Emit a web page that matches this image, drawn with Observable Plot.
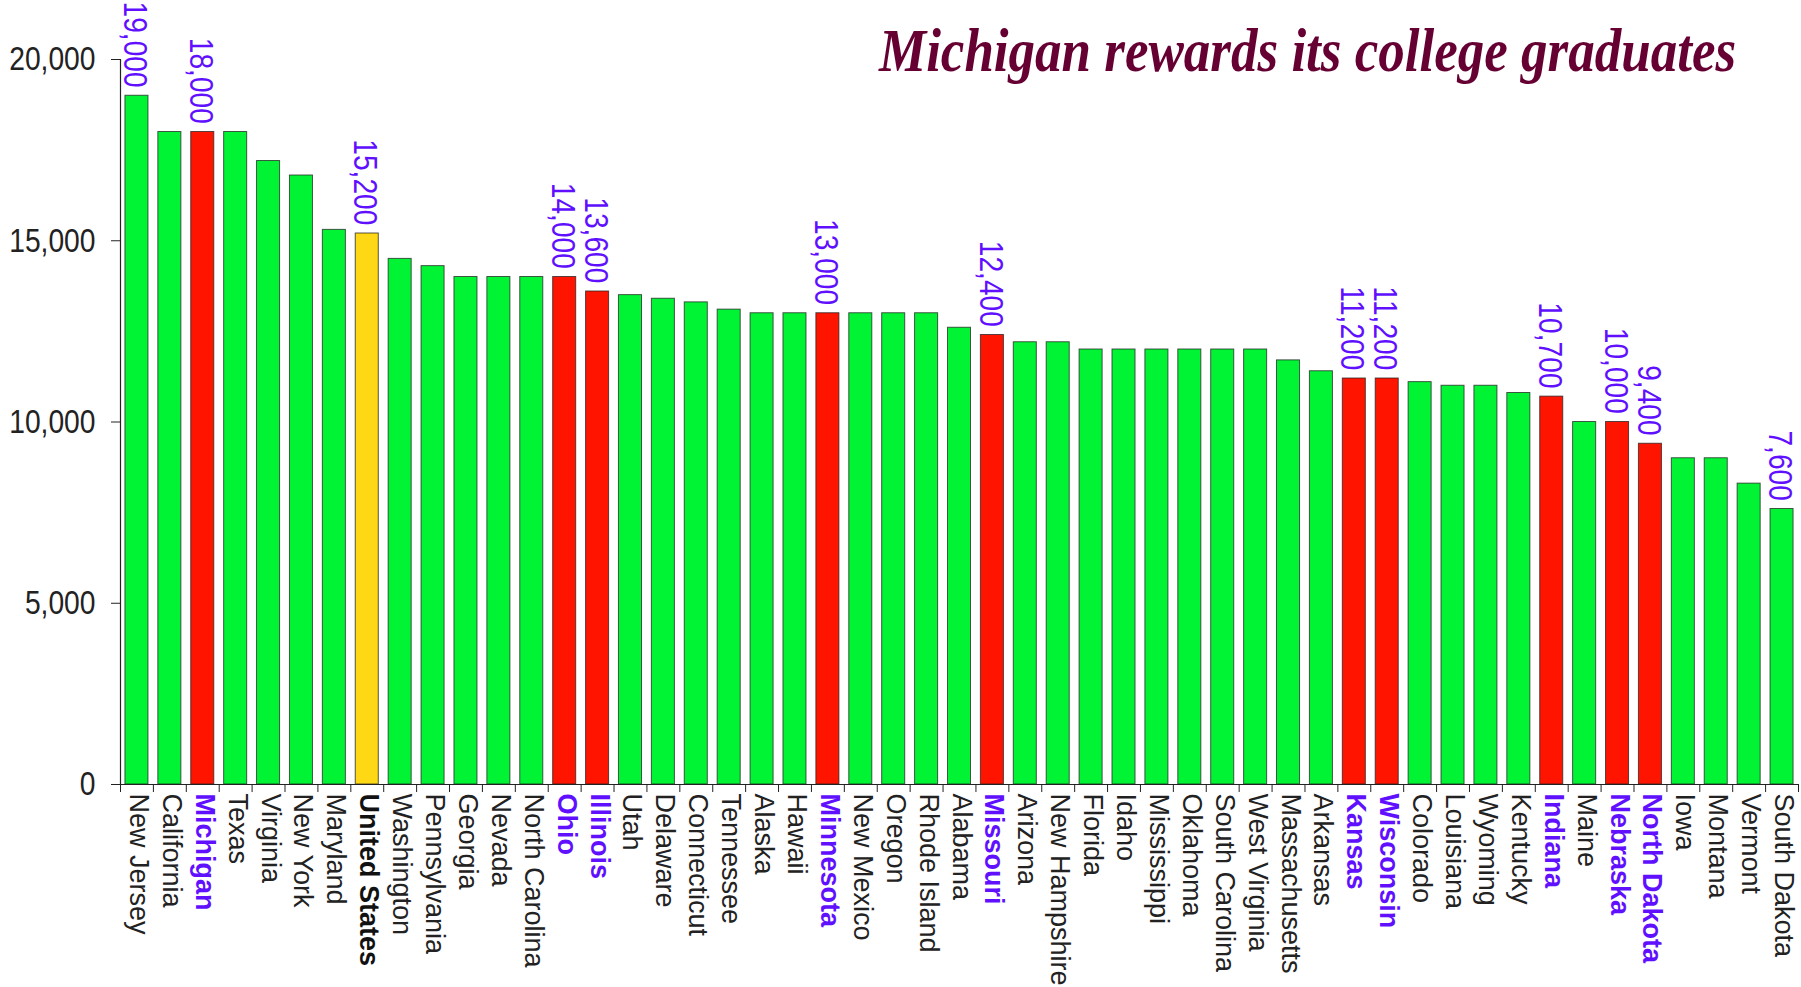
<!DOCTYPE html>
<html>
<head>
<meta charset="utf-8">
<script src="https://cdn.jsdelivr.net/npm/d3@7"></script>
<script src="https://cdn.jsdelivr.net/npm/@observablehq/plot@0.6"></script>
<style>
  html, body { margin: 0; padding: 0; background: #fff; }
  #wrap { position: relative; width: 1801px; height: 987px; overflow: hidden; }
  #title {
    position: absolute; left: 879px; top: 19px; margin: 0;
    font: italic bold 62px "Liberation Serif", "Times New Roman", serif;
    line-height: 1; color: #660033; white-space: nowrap;
    transform: scaleX(0.855); transform-origin: left top;
  }
  svg { display: block; }
</style>
</head>
<body>
<div id="wrap">
  <div id="chart"></div>
  <div id="title">Michigan rewards its college graduates</div>
</div>
<script>
// ---- data ----
const states = [
  "New Jersey", "California", "Michigan", "Texas", "Virginia", "New York", "Maryland",
  "United States", "Washington", "Pennsylvania", "Georgia", "Nevada", "North Carolina",
  "Ohio", "Illinois", "Utah", "Delaware", "Connecticut", "Tennessee", "Alaska", "Hawaii",
  "Minnesota", "New Mexico", "Oregon", "Rhode Island", "Alabama", "Missouri", "Arizona",
  "New Hampshire", "Florida", "Idaho", "Mississippi", "Oklahoma", "South Carolina",
  "West Virginia", "Massachusetts", "Arkansas", "Kansas", "Wisconsin", "Colorado",
  "Louisiana", "Wyoming", "Kentucky", "Indiana", "Maine", "Nebraska", "North Dakota",
  "Iowa", "Montana", "Vermont", "South Dakota"
];
const values = [
  19000, 18000, 18000, 18000, 17200, 16800, 15300,
  15200, 14500, 14300, 14000, 14000, 14000,
  14000, 13600, 13500, 13400, 13300, 13100, 13000, 13000,
  13000, 13000, 13000, 13000, 12600, 12400, 12200,
  12200, 12000, 12000, 12000, 12000, 12000,
  12000, 11700, 11400, 11200, 11200, 11100,
  11000, 11000, 10800, 10700, 10000, 10000, 9400,
  9000, 9000, 8300, 7600
];
const highlighted = ["Michigan", "Ohio", "Illinois", "Minnesota", "Missouri", "Kansas",
  "Wisconsin", "Indiana", "Nebraska", "North Dakota"];
const nationLabel = "United States";
const labelledBars = ["New Jersey", "Michigan", "United States", "Ohio", "Illinois",
  "Minnesota", "Missouri", "Kansas", "Wisconsin", "Indiana", "Nebraska", "North Dakota",
  "South Dakota"];
const yTicks = [0, 5000, 10000, 15000, 20000];
const kinds = ["state", "highlight", "nation"];
const kindColors = ["#00f434", "#ff1400", "#ffd815"];

// ---- table built from the arrays ----
const data = states.map((s, i) => ({
  state: s,
  value: values[i],
  kind: s === nationLabel ? "nation" : highlighted.includes(s) ? "highlight" : "state"
}));

const W = 1801, H = 987;
const mL = 120, mR = 3, mT = 59, mB = 203;
const padIn = 0.3, padOut = 0.15;
const step = (W - mL - mR) / (states.length - padIn + 2 * padOut);

const regular = "'Liberation Sans', Arial, sans-serif";
const blue = "#6010ff";
const fmt = d3.format(",");
const condense = 0.83; // the reference's numerals are set in a narrow face

const stateText = (subset, extra) => Plot.text(subset, {
  x: "state", text: "state", frameAnchor: "bottom", rotate: 90, textAnchor: "start",
  dy: 9, dx: -7, fontSize: 27, fontFamily: regular, ...extra
});

const plot = Plot.plot({
  width: W, height: H,
  marginLeft: mL, marginRight: mR, marginTop: mT, marginBottom: mB,
  style: { fontFamily: regular, fontSize: "34px", color: "#222", background: "white", overflow: "visible" },
  x: { type: "band", domain: states, paddingInner: padIn, paddingOuter: padOut, axis: null },
  y: { domain: [0, d3.max(yTicks)], axis: null },
  color: { domain: kinds, range: kindColors },
  marks: [
    Plot.barY(data, { x: "state", y: "value", fill: "kind", stroke: "#222", strokeOpacity: 0.75, strokeWidth: 1 }),
    Plot.ruleY([0], { stroke: "#222", strokeWidth: 1.2 }),
    Plot.ruleX([states[0]], { x: d => d, y1: 0, y2: d3.max(yTicks), dx: -step / 2, stroke: "#222", strokeWidth: 1.2 }),
    Plot.axisY({ ticks: yTicks, tickSize: 9, tickPadding: 16, tickFormat: fmt, label: null,
      fontSize: 34, fontFamily: regular, fill: "#222", stroke: "#222" }),
    Plot.axisX({ tickSize: 8, tickFormat: () => "", dx: -step / 2, label: null, stroke: "#222" }),
    Plot.axisX({ ticks: [states[states.length - 1]], tickSize: 8, tickFormat: () => "", dx: step / 2, label: null, stroke: "#222" }),
    // state labels
    stateText(data.filter(d => d.kind === "state"), { fill: "#222" }),
    stateText(data.filter(d => d.kind === "highlight"), { fontWeight: "bold", fill: blue }),
    stateText(data.filter(d => d.kind === "nation"), { fontWeight: "bold", fill: "#111" }),
    // value labels
    Plot.text(data.filter(d => labelledBars.includes(d.state)), {
      x: "state", y: "value", text: d => fmt(d.value), rotate: 90, textAnchor: "end",
      dy: -8, dx: -2, fontSize: 34, fontFamily: regular, fill: blue
    })
  ]
});

// condense the numeral labels (y ticks and value labels) along their reading direction
plot.querySelectorAll("text").forEach(t => {
  if (!/^[\d,]+$/.test(t.textContent.trim())) return;
  const tr = t.getAttribute("transform");
  if (tr) {
    t.setAttribute("transform", tr + ` scale(${condense},1)`);
  } else {
    const x = +t.getAttribute("x") || 0, y = +t.getAttribute("y") || 0;
    t.removeAttribute("x"); t.removeAttribute("y");
    t.setAttribute("transform", `translate(${x},${y}) scale(${condense},1)`);
  }
});
document.getElementById("chart").append(plot);
</script>
</body>
</html>
